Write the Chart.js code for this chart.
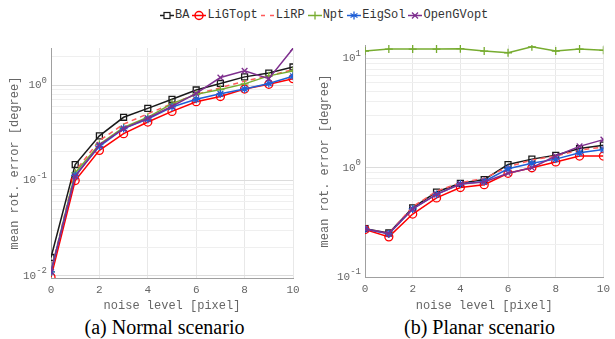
<!DOCTYPE html>
<html><head><meta charset="utf-8">
<script src="https://cdn.jsdelivr.net/npm/chart.js@4/dist/chart.umd.min.js"></script>
<style>
html,body{margin:0;padding:0;background:#fff;width:615px;height:339px;overflow:hidden;position:relative;}
#legend{position:absolute;top:6px;left:160px;height:18px;display:flex;align-items:center;font-family:"Liberation Mono","DejaVu Sans Mono",monospace;font-size:12px;color:#333;white-space:nowrap;}
#legend .it{display:flex;align-items:center;margin-right:3px;}
#legend svg{margin-right:1px;}
.cv{position:absolute;top:30px;}
.cap{position:absolute;top:315px;font-family:"Liberation Serif","Times New Roman",serif;font-size:20px;color:#000;text-align:center;width:307px;line-height:24px;}
</style></head><body>
<div id="legend"></div>
<div class="cv" style="left:0;width:307px;height:285px;"><canvas id="c1" width="307" height="285"></canvas></div>
<div class="cv" style="left:308px;width:307px;height:285px;"><canvas id="c2" width="307" height="285"></canvas></div>
<div class="cap" style="left:11px;">(a) Normal scenario</div>
<div class="cap" style="left:326px;">(b) Planar scenario</div>
<script>
const noise = [0,1,2,3,4,5,6,7,8,9,10];
const seriesNames = ["BA","LiGTopt","LiRP","Npt","EigSol","OpenGVopt"];

// (a) Normal scenario
const normBA        = [0.0156,0.147,0.294,0.46,0.57,0.71,0.89,1.04,1.22,1.34,1.55];
const normLiGTopt   = [0.0097,0.100,0.207,0.31,0.41,0.53,0.67,0.76,0.91,1.02,1.17];
const normLiRP      = [0.0112,0.125,0.262,0.39,0.50,0.64,0.80,0.94,1.10,1.25,1.45];
const normNpt       = [0.0110,0.120,0.240,0.36,0.46,0.64,0.80,0.90,1.03,1.25,1.41];
const normEigSol    = [0.0110,0.113,0.228,0.35,0.44,0.59,0.71,0.81,0.91,1.04,1.24];
const normOpenGVopt = [0.0110,0.110,0.235,0.35,0.45,0.60,0.82,1.20,1.41,1.17,2.42];

// (b) Planar scenario
const planBA        = [0.277,0.253,0.43,0.60,0.72,0.78,1.07,1.20,1.30,1.50,1.61];
const planLiGTopt   = [0.272,0.233,0.377,0.53,0.66,0.70,0.89,1.00,1.13,1.28,1.28];
const planLiRP      = [0.276,0.250,0.44,0.61,0.73,0.80,1.02,1.18,1.28,1.45,1.55];
const planNpt       = [11.7,12.2,12.2,12.2,12.3,11.7,11.3,12.8,11.7,12.2,11.9];
const planEigSol    = [0.275,0.248,0.42,0.57,0.71,0.75,0.98,1.10,1.20,1.37,1.47];
const planOpenGVopt = [0.275,0.250,0.42,0.57,0.71,0.74,0.89,1.00,1.28,1.57,1.81];

const xTickValues = [0,2,4,6,8,10];
const leftMajor = [0.01,0.1,1];
const leftExponents = ["-2","-1","0"];
const rightMajor = [0.1,1,10];
const rightExponents = ["-1","0","1"];

const styles = [
  {color:'#1a1a1a', pointStyle:'rect', radius:4.2, dash:[]},
  {color:'#ff0000', pointStyle:'circle', radius:4, dash:[]},
  {color:'#ff5a5a', pointStyle:false, radius:0, dash:[5,4]},
  {color:'#77ac30', pointStyle:'cross', radius:4, dash:[]},
  {color:'#1f5fd6', pointStyle:'star', radius:4, dash:[]},
  {color:'#7e2f8e', pointStyle:'crossRot', radius:4, dash:[]}
];

// legend
const legend = document.getElementById('legend');
function markerSvg(st){
  const c = st.color;
  let m = '';
  if(st.pointStyle==='rect') m = `<rect x="4" y="3.5" width="6" height="6" fill="white" stroke="${c}" stroke-width="1.2"/>`;
  if(st.pointStyle==='circle') m = `<circle cx="7" cy="6.5" r="4" fill="none" stroke="${c}" stroke-width="1.5"/>`;
  if(st.pointStyle==='cross') m = `<line x1="7" y1="2.5" x2="7" y2="10.5" stroke="${c}" stroke-width="1.3"/>`;
  if(st.pointStyle==='star') m = `<line x1="7" y1="2.5" x2="7" y2="10.5" stroke="${c}" stroke-width="1.3"/><line x1="3.5" y1="4.5" x2="10.5" y2="8.5" stroke="${c}" stroke-width="1.3"/><line x1="3.5" y1="8.5" x2="10.5" y2="4.5" stroke="${c}" stroke-width="1.3"/>`;
  if(st.pointStyle==='crossRot') m = `<line x1="4" y1="3.5" x2="10" y2="9.5" stroke="${c}" stroke-width="1.3"/><line x1="4" y1="9.5" x2="10" y2="3.5" stroke="${c}" stroke-width="1.3"/>`;
  const line = st.dash.length ? `<line x1="0" y1="6.5" x2="14" y2="6.5" stroke="${c}" stroke-width="1.5" stroke-dasharray="4,5"/>` : `<line x1="0" y1="6.5" x2="14" y2="6.5" stroke="${c}" stroke-width="1.5"/>`;
  return `<svg width="14" height="13">${line}${m}</svg>`;
}
seriesNames.forEach((n,i)=>{
  const d = document.createElement('div'); d.className='it';
  d.innerHTML = markerSvg(styles[i]) + `<span>${n}</span>`;
  legend.appendChild(d);
});

function buildDatasets(arrs){
  return arrs.map((vals,i)=>({
    label: seriesNames[i],
    data: noise.map((x,j)=>({x:x,y:vals[j]})),
    borderColor: styles[i].color,
    backgroundColor: 'rgba(0,0,0,0)',
    borderWidth: 1.5,
    borderDash: styles[i].dash,
    pointStyle: styles[i].pointStyle || 'circle',
    pointRadius: styles[i].radius,
    pointBorderWidth: 1.3,
    pointBorderColor: styles[i].color,
    pointBackgroundColor: 'rgba(0,0,0,0)',
    tension: 0,
    order: 6 - i
  }));
}

function minorTicks(min,max){
  const out=[];
  for(let e=-3;e<=2;e++){
    for(let k=1;k<=9;k++){
      const v = +(k*Math.pow(10,e)).toPrecision(6);
      if(v>=min*0.999 && v<=max*1.001) out.push(v);
    }
  }
  return out;
}

const FONT = '"Liberation Mono","DejaVu Sans Mono",monospace';
const tickFont = {family:FONT, size:11};
const titleFont = {family:FONT, size:12};

// draws y tick labels as 10 with a raised exponent
const powLabels = {
  id:'powLabels',
  afterDraw(chart, args, opts){
    const s = chart.scales.y, ctx = chart.ctx;
    ctx.save();
    ctx.fillStyle = '#666';
    ctx.textBaseline = 'middle';
    opts.majors.forEach((m,i)=>{
      const y = s.getPixelForValue(m);
      const exp = opts.exponents[i];
      ctx.font = '9px ' + FONT;
      const ew = ctx.measureText(exp).width;
      const xr = s.right - 4;
      ctx.textAlign = 'left';
      ctx.fillText(exp, xr - ew, y - 5);
      ctx.font = '11px ' + FONT;
      ctx.textAlign = 'right';
      ctx.fillText('10', xr - ew, y);
    });
    ctx.restore();
  }
};

function makeChart(id, arrs, yMin, yMax, majors, exps, yWidth, xHeight, rightPad, topPad, titlePadTop){
  return new Chart(document.getElementById(id), {
    type:'line',
    data:{datasets: buildDatasets(arrs)},
    plugins:[powLabels],
    options:{
      responsive:false, animation:false, devicePixelRatio:1,
      layout:{padding:{left:0,right:rightPad,top:topPad,bottom:0}},
      plugins:{legend:{display:false}, tooltip:{enabled:false}, powLabels:{majors:majors, exponents:exps}},
      elements:{line:{borderCapStyle:'butt'}},
      scales:{
        x:{type:'linear', min:0, max:10,
          afterBuildTicks:(s)=>{s.ticks = xTickValues.map(v=>({value:v}));},
          afterFit:(s)=>{s.height = xHeight;},
          ticks:{font:tickFont, color:'#666', padding:5, maxRotation:0,
                 callback:(v)=>String(v)},
          grid:{color:'#e8e8e8', drawTicks:false, lineWidth:1},
          border:{color:'#a0a0a0', width:1},
          title:{display:true, text:'noise level [pixel]', font:titleFont, color:'#666', padding:{top:2,bottom:2}}
        },
        y:{type:'logarithmic', min:yMin, max:yMax,
          afterBuildTicks:(s)=>{s.ticks = minorTicks(yMin,yMax).map(v=>({value:v}));},
          afterFit:(s)=>{s.width = yWidth;},
          ticks:{font:tickFont, color:'rgba(0,0,0,0)', padding:4, autoSkip:false,
            callback:(v)=>{const i = majors.findIndex(m=>Math.abs(m-v)<1e-9*Math.max(1,m)); return i>=0?('10^'+exps[i]):'';}},
          grid:{drawTicks:false, lineWidth:1,
            color:(ctx)=>{const v=ctx.tick&&ctx.tick.value; return majors.some(m=>Math.abs(m-v)<1e-9)?'#dcdcdc':'#efefef';}},
          border:{color:'#a0a0a0', width:1},
          title:{display:true, text:'mean rot. error [degree]', font:titleFont, color:'#666', padding:{top:titlePadTop,bottom:0}}
        }
      }
    }
  });
}

makeChart('c1', [normBA,normLiGTopt,normLiRP,normNpt,normEigSol,normOpenGVopt], 0.0095, 2.45, leftMajor, leftExponents, 51, 37, 14, 18, 8);
makeChart('c2', [planBA,planLiGTopt,planLiRP,planNpt,planEigSol,planOpenGVopt], 0.1, 13.3, rightMajor, rightExponents, 57, 38, 8, 15, 10);
</script>
</body></html>
